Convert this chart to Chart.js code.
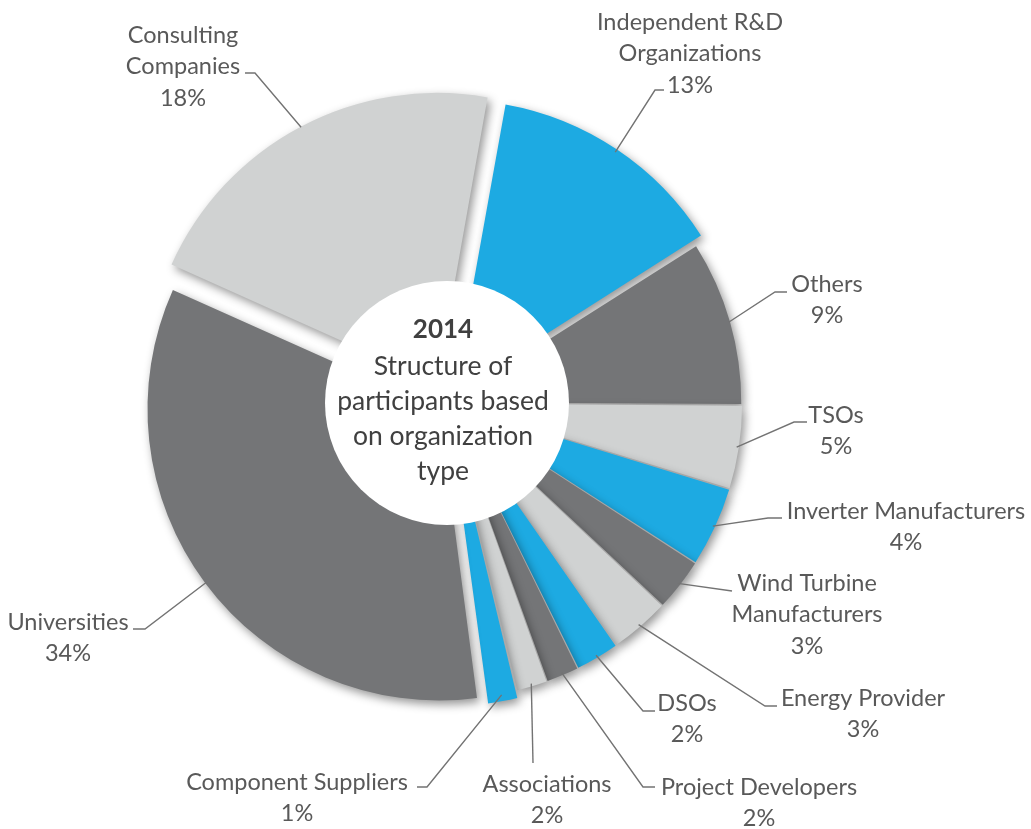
<!DOCTYPE html>
<html>
<head>
<meta charset="utf-8">
<script src="https://cdn.jsdelivr.net/npm/chart.js@4.4.1/dist/chart.umd.min.js"></script>
<style>
  html, body { margin: 0; padding: 0; background: #ffffff; }
  #wrap { width: 1031px; height: 829px; position: relative; }
</style>
</head>
<body>
<div id="wrap"><canvas id="c"></canvas></div>
<script>
// ---- data (clockwise, starting at the top-right slice) ----
const categories = [
  "Independent R&D Organizations", "Others", "TSOs", "Inverter Manufacturers",
  "Wind Turbine Manufacturers", "Energy Provider", "DSOs", "Project Developers",
  "Associations", "Component Suppliers", "Universities", "Consulting Companies"
];
const shares = [13.2, 9.1, 4.6, 4.4, 2.9, 3.3, 2.4, 1.8, 1.7, 1.7, 33.8, 21.1];
const shareLabels = ["13%", "9%", "5%", "4%", "3%", "3%", "2%", "2%", "2%", "1%", "34%", "18%"];
const labelLines = [
  ["Independent R&D", "Organizations"], ["Others"], ["TSOs"], ["Inverter Manufacturers"],
  ["Wind Turbine", "Manufacturers"], ["Energy Provider"], ["DSOs"], ["Project Developers"],
  ["Associations"], ["Component Suppliers"], ["Universities"], ["Consulting", "Companies"]
];
const centerTitle = "2014";
const centerLines = ["Structure of", "participants based", "on organization", "type"];

// ---- styling / layout (not data) ----
const LIGHT = "#D0D2D2", DARK = "#747577", BLUE = "#1DAAE2";
const sliceColors = [BLUE, DARK, LIGHT, BLUE, DARK, LIGHT, BLUE, DARK, LIGHT, BLUE, DARK, LIGHT];
// explode distance in px (Chart.js v4 draws arcs shifted by offset/4)
const explodePx = [12, 3, 3, 3, 3, 3, 3, 3, 3, 7, 10, 22];
// label layout: [textCenterX, firstLineY, elbowX, elbowY, stubEndX]
const labelLayout = [
  [690, 22, 655, 90, 664],
  [827, 284, 775, 292, 787],
  [836, 415, 794, 422, 807],
  [906, 511, 768, 518, 782],
  [807, 583, 732, 591, 732],
  [863, 698, 765, 706, 777],
  [687, 703, 643, 711, 655],
  [759, 787, 643, 787, 655],
  [547, 784, 533, 763, 533],
  [297, 782, 427, 787, 417],
  [68, 622, 145, 629, 133],
  [183, 35, 255, 73, 245]
];
const LINE_H = 31.5;
const FONT = "Lato, 'Open Sans', sans-serif";

const shadowPlugin = {
  id: 'shadow',
  beforeDatasetsDraw(chart) {
    const ctx = chart.ctx;
    ctx.save();
    ctx.shadowColor = 'rgba(0,0,0,0.42)';
    ctx.shadowBlur = 10;
    ctx.shadowOffsetX = 3;
    ctx.shadowOffsetY = 4;
  },
  afterDatasetsDraw(chart) {
    const ctx = chart.ctx;
    ctx.restore();
    const meta = chart.getDatasetMeta(0);
    const a0 = meta.data[0];
    const cx = a0.x, cy = a0.y;
    // white hole
    ctx.save();
    ctx.beginPath();
    ctx.arc(cx, cy, 122, 0, Math.PI * 2);
    ctx.fillStyle = '#ffffff';
    ctx.fill();
    ctx.restore();

    // center text
    ctx.save();
    ctx.textAlign = 'center';
    ctx.textBaseline = 'middle';
    ctx.fillStyle = '#404040';
    ctx.font = "bold 26px " + FONT;
    ctx.fillText(centerTitle, 443, 330);
    ctx.font = "26.5px " + FONT;
    centerLines.forEach((t, k) => ctx.fillText(t, 443, 366 + k * 35));
    ctx.restore();

    // labels & leader lines
    ctx.save();
    meta.data.forEach((arc, i) => {
      const p = arc.getProps(['x', 'y', 'startAngle', 'endAngle', 'outerRadius'], true);
      const mid = (p.startAngle + p.endAngle) / 2;
      const r = p.outerRadius + (arc.options.offset || 0) / 4;
      const ax = p.x + Math.cos(mid) * r;
      const ay = p.y + Math.sin(mid) * r;
      const [tx, ty, ex, ey, sx] = labelLayout[i];
      ctx.beginPath();
      ctx.moveTo(ax, ay);
      ctx.lineTo(ex, ey);
      if (sx !== ex) ctx.lineTo(sx, ey);
      ctx.strokeStyle = '#737373';
      ctx.lineWidth = 1.4;
      ctx.stroke();

      ctx.fillStyle = '#595959';
      ctx.font = "23.5px " + FONT;
      ctx.textAlign = 'center';
      ctx.textBaseline = 'middle';
      const lines = labelLines[i].concat([shareLabels[i]]);
      lines.forEach((t, k) => ctx.fillText(t, tx, ty + k * LINE_H));
    });
    ctx.restore();
  }
};

new Chart(document.getElementById('c'), {
  type: 'pie',
  data: {
    labels: categories,
    datasets: [{
      data: shares,
      backgroundColor: sliceColors,
      borderWidth: 0,
      offset: explodePx.map(v => v * 4),
      hoverOffset: 0
    }]
  },
  options: {
    responsive: true,
    maintainAspectRatio: false,
    animation: false,
    events: [],
    rotation: 10.1,
    radius: 290,
    layout: { padding: { left: 0, right: 137, top: 0, bottom: 23 } },
    plugins: { legend: { display: false }, tooltip: { enabled: false } }
  },
  plugins: [shadowPlugin]
});
</script>
</body>
</html>
